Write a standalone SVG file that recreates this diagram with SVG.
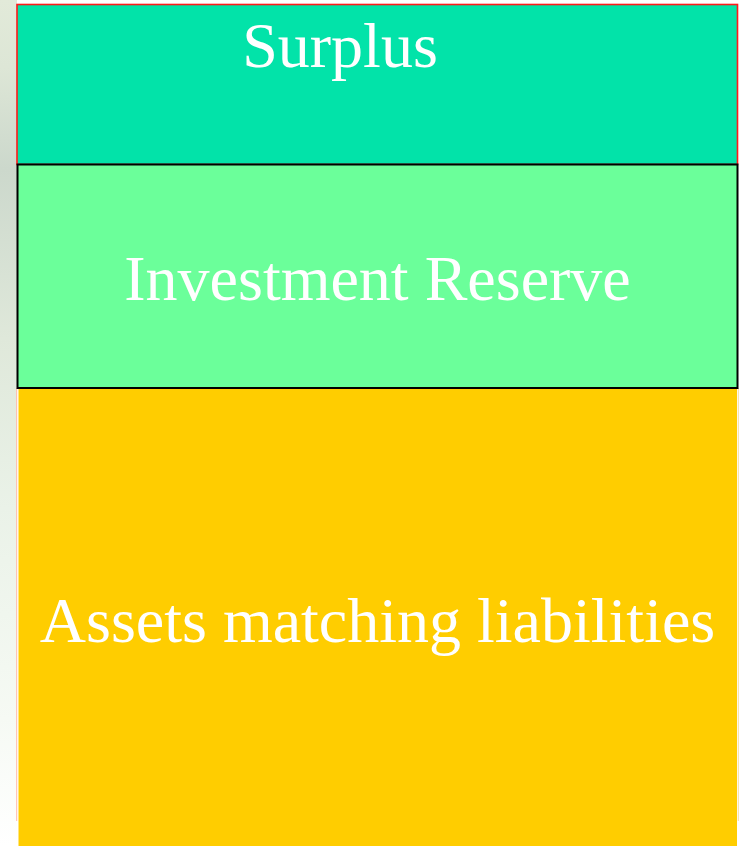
<svg xmlns="http://www.w3.org/2000/svg" width="739" height="846" viewBox="0 0 739 846">
  <defs>
    <linearGradient id="edgeBg" x1="0" y1="0" x2="0" y2="1">
      <stop offset="0" stop-color="#e2ead9"/>
      <stop offset="0.08" stop-color="#dde6d6"/>
      <stop offset="0.2" stop-color="#ccd8cc"/>
      <stop offset="0.4" stop-color="#dfe8da"/>
      <stop offset="0.6" stop-color="#eaf2e8"/>
      <stop offset="0.85" stop-color="#f6faf4"/>
      <stop offset="1" stop-color="#ffffff"/>
    </linearGradient>
    <style>
      .label { font-family: "Liberation Serif", "Times New Roman", serif; font-size: 64px; fill: #ffffff; text-anchor: middle; }
      .band { stroke: #000000; stroke-width: 2; }
    </style>
  </defs>

  <!-- page background -->
  <rect x="0" y="0" width="739" height="846" fill="#ffffff"/>
  <rect x="0" y="0" width="17" height="846" fill="url(#edgeBg)"/>

  <!-- faint frame edges beside the lower band -->
  <line x1="16.7" y1="388" x2="16.7" y2="821" stroke="#ffb8a8" stroke-width="1"/>
  <line x1="738.3" y1="388" x2="738.3" y2="821" stroke="#f4dca0" stroke-width="1"/>

  <g id="surplus">
    <rect x="17" y="4.5" width="720.5" height="160" fill="#02e3a9" stroke="#ff1a1a" stroke-width="1.6"/>
    <text class="label" x="340" y="67">Surplus</text>
  </g>

  <g id="investment-reserve">
    <rect class="band" x="17.5" y="164.5" width="720" height="223.5" fill="#6bff9a"/>
    <text class="label" x="377.5" y="300">Investment Reserve</text>
  </g>

  <g id="assets-matching-liabilities">
    <rect x="18.5" y="389" width="718.5" height="457" fill="#ffcd00"/>
    <text class="label" x="377.5" y="642">Assets matching liabilities</text>
  </g>
</svg>
